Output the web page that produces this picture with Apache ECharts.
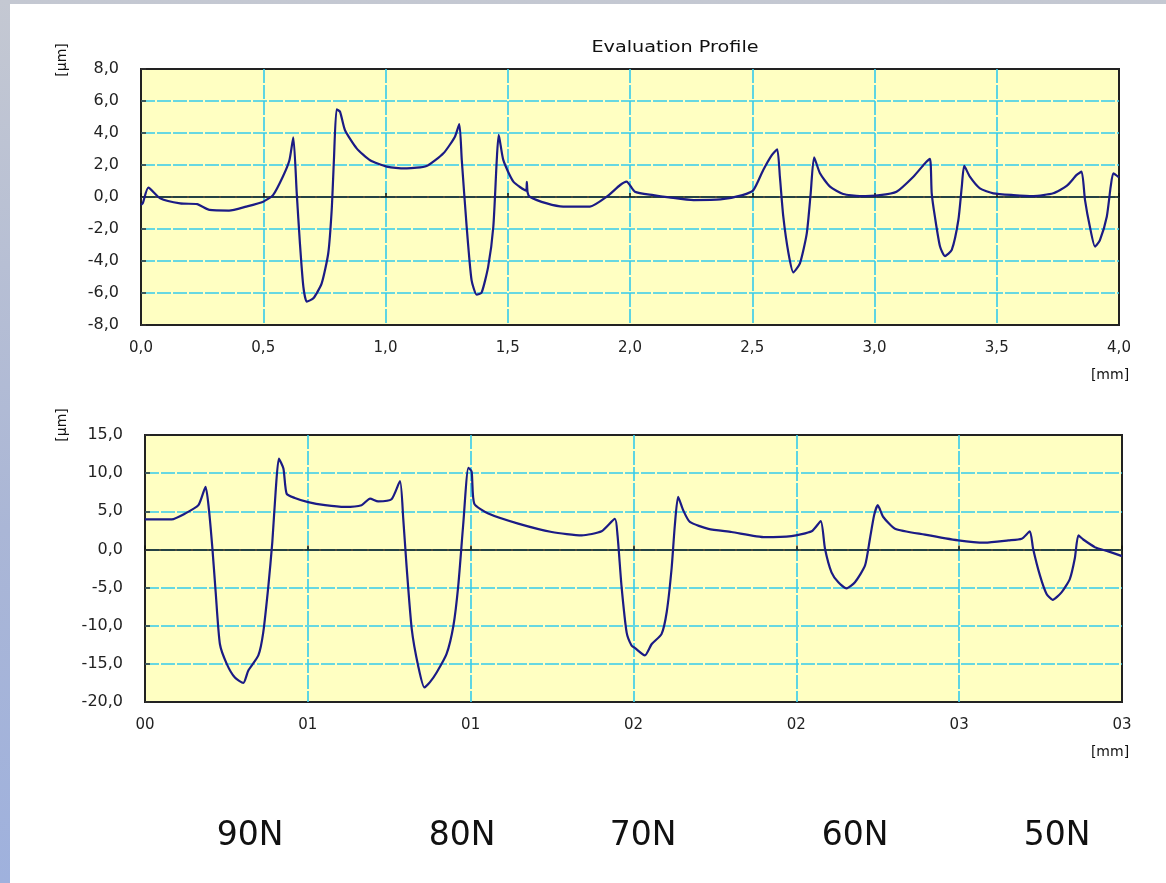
<!DOCTYPE html>
<html>
<head>
<meta charset="utf-8">
<title>Evaluation Profile</title>
<script src="https://cdn.jsdelivr.net/npm/echarts@6/dist/echarts.min.js"></script>
<style>
  html, body { margin: 0; padding: 0; }
  body {
    width: 1166px; height: 883px; overflow: hidden; position: relative;
    background: linear-gradient(to bottom, #c4c8d2 0%, #aab6d6 60%, #9fb1dd 100%);
  }
  #panel { position: absolute; left: 10px; top: 4px; right: 0; bottom: 0; background: #fff; }
  #main { position: absolute; left: 0; top: 0; width: 1166px; height: 883px; }
</style>
</head>
<body>
<div id="panel"></div>
<div id="main"></div>
<script>
// profil 1 : [mm, µm]
var profile1 = [
  [0,-0.5],[0.007,-0.4],[0.03,0.58],[0.078,-0.08],[0.16,-0.4],[0.23,-0.44],[0.25,-0.6],[0.28,-0.81],
  [0.36,-0.85],[0.43,-0.6],[0.50,-0.29],[0.54,0.12],[0.58,1.27],[0.607,2.3],[0.623,3.73],[0.637,0.23],
  [0.65,-2.9],[0.664,-5.6],[0.678,-6.54],[0.705,-6.33],[0.739,-5.4],[0.766,-3.5],[0.78,-0.8],[0.789,2.3],
  [0.80,5.48],[0.814,5.33],[0.834,4.19],[0.882,3.04],[0.937,2.3],[1.005,1.9],[1.087,1.79],[1.168,1.94],
  [1.237,2.73],[1.284,3.77],[1.302,4.56],[1.312,2.3],[1.332,-1.86],[1.352,-5.2],[1.373,-6.1],[1.393,-5.98],
  [1.42,-4.35],[1.441,-1.86],[1.455,2.3],[1.463,3.88],[1.482,2.3],[1.523,0.96],[1.575,0.4],[1.578,0.95],
  [1.581,0.3],[1.59,0.02],[1.66,-0.4],[1.727,-0.6],[1.836,-0.6],[1.905,0.02],[1.96,0.75],[1.986,0.96],
  [2.02,0.33],[2.095,0.12],[2.16,-0.02],[2.26,-0.19],[2.37,-0.15],[2.46,0.12],[2.505,0.44],[2.545,1.69],
  [2.58,2.62],[2.602,2.98],[2.613,1.27],[2.627,-1.23],[2.648,-3.5],[2.668,-4.71],[2.695,-4.15],[2.723,-2.27],
  [2.739,0.23],[2.753,2.48],[2.777,1.48],[2.818,0.65],[2.872,0.19],[2.94,0.06],[3.022,0.12],[3.09,0.33],
  [3.159,1.27],[3.206,2.1],[3.227,2.38],[3.234,0.23],[3.247,-1.23],[3.268,-3.1],[3.288,-3.69],[3.316,-3.31],
  [3.343,-1.44],[3.357,0.65],[3.367,1.94],[3.39,1.27],[3.431,0.54],[3.486,0.23],[3.568,0.12],[3.65,0.06],
  [3.731,0.23],[3.786,0.69],[3.827,1.38],[3.847,1.58],[3.861,-0.19],[3.881,-1.86],[3.902,-3.1],[3.922,-2.69],
  [3.95,-1.23],[3.966,0.65],[3.977,1.48],[4.0,1.23]
];

// profil 2 : [mm, µm]
var profile2 = [
  [0,3.95],[0.082,3.95],[0.123,4.7],[0.164,5.8],[0.186,8.2],[0.196,5.35],[0.207,0.1],[0.217,-5.6],
  [0.23,-12.4],[0.251,-15.0],[0.276,-16.8],[0.302,-17.5],[0.317,-15.9],[0.348,-13.9],[0.363,-10.9],[0.379,-4.7],
  [0.391,1.0],[0.401,7.5],[0.411,11.9],[0.425,10.6],[0.435,7.3],[0.46,6.75],[0.501,6.2],[0.553,5.8],
  [0.614,5.57],[0.665,5.8],[0.691,6.67],[0.716,6.3],[0.757,6.57],[0.783,8.95],[0.793,4.0],[0.803,-2.1],
  [0.819,-10.4],[0.839,-15.3],[0.858,-18.1],[0.875,-17.4],[0.896,-16.1],[0.926,-13.7],[0.947,-10.0],[0.962,-4.7],
  [0.977,3.2],[0.993,10.7],[1.003,10.2],[1.011,6.0],[1.054,4.7],[1.146,3.38],[1.249,2.28],[1.341,1.84],
  [1.402,2.37],[1.443,4.0],[1.451,1.84],[1.463,-4.7],[1.479,-10.9],[1.494,-12.6],[1.504,-12.9],[1.535,-13.9],
  [1.556,-12.4],[1.586,-11.1],[1.602,-8.2],[1.617,-2.5],[1.627,3.2],[1.637,6.9],[1.653,5.1],[1.673,3.6],
  [1.73,2.7],[1.801,2.28],[1.904,1.6],[1.985,1.75],[2.047,2.37],[2.075,3.7],[2.088,0.1],[2.108,-3.0],
  [2.129,-4.3],[2.154,-5.1],[2.18,-4.3],[2.211,-2.1],[2.226,1.4],[2.239,4.5],[2.25,5.8],[2.267,4.25],
  [2.303,2.72],[2.395,1.93],[2.497,1.18],[2.579,0.88],[2.651,1.18],[2.692,1.4],[2.717,2.37],[2.727,0.1],
  [2.748,-3.4],[2.768,-5.8],[2.787,-6.6],[2.815,-5.6],[2.84,-3.86],[2.855,-1.2],[2.866,1.84],[2.881,1.3],
  [2.917,0.3],[2.958,-0.26],[3.0,-0.88]
];

// etiquettes de l'axe x du 2e graphe (telles qu'affichées)
var xLabels2 = ['00', '01', '01', '02', '02', '03', '03'];
// charges sous les graphes
var loadLabels = ['90N', '80N', '70N', '60N', '50N'];
var loadPosX = [250, 462, 643, 855, 1057];

var chart = echarts.init(document.getElementById('main'));

var axisFont = 'DejaVu Sans';
var gridCol = '#36cbec';
var lineCol = '#1b1b85';

function comma(v) {
  return v.toFixed(1).replace('.', ',');
}

var splitStyle = { color: gridCol, width: 1.6, type: [14, 2] };

function xAxisMain(gi, max, fmt) {
  return {
    type: 'value', gridIndex: gi, min: 0, max: max, interval: 0.5,
    position: 'bottom',
    axisLine: { onZero: false, show: false },
    axisTick: { show: false },
    axisLabel: { color: '#222', fontFamily: axisFont, fontSize: 15, margin: 16, formatter: fmt },
    splitLine: { show: true, showMinLine: false, showMaxLine: false, lineStyle: splitStyle }
  };
}
function xAxisZero(gi, max) {
  return {
    type: 'value', gridIndex: gi, min: 0, max: max, interval: 0.5,
    position: 'top',
    axisLine: { onZero: true, lineStyle: { color: '#111', width: 1.5 } },
    axisTick: { show: true, inside: false, length: 4, lineStyle: { color: '#111', width: 1.5 } },
    axisLabel: { show: false },
    splitLine: { show: false }
  };
}
function yAxisDef(gi, min, max, iv) {
  return {
    type: 'value', gridIndex: gi, min: min, max: max, interval: iv,
    axisLine: { show: false },
    axisTick: { show: true, inside: true, length: 5, lineStyle: { color: '#333', width: 1.5 } },
    axisLabel: { color: '#222', fontFamily: axisFont, fontSize: 16, margin: 22, formatter: comma },
    splitLine: { show: true, showMinLine: false, showMaxLine: false, lineStyle: splitStyle }
  };
}

var graphics = [
  { type: 'text', x: 675, y: 48, scaleX: 1.2,
    style: { text: 'Evaluation Profile', font: '16px "DejaVu Sans"', fill: '#111', align: 'center', verticalAlign: 'middle' } },
  { type: 'text', x: 62, y: 60, rotation: Math.PI / 2,
    style: { text: '[µm]', font: '14px "DejaVu Sans"', fill: '#111', align: 'center', verticalAlign: 'middle' } },
  { type: 'text', x: 62, y: 425, rotation: Math.PI / 2,
    style: { text: '[µm]', font: '14px "DejaVu Sans"', fill: '#111', align: 'center', verticalAlign: 'middle' } },
  { type: 'text', x: 1110, y: 375,
    style: { text: '[mm]', font: '14px "DejaVu Sans"', fill: '#111', align: 'center', verticalAlign: 'middle' } },
  { type: 'text', x: 1110, y: 752,
    style: { text: '[mm]', font: '14px "DejaVu Sans"', fill: '#111', align: 'center', verticalAlign: 'middle' } }
];
loadLabels.forEach(function (t, i) {
  graphics.push({ type: 'text', x: loadPosX[i], y: 836,
    style: { text: t, font: '33px "DejaVu Sans"', fill: '#111', align: 'center', verticalAlign: 'middle' } });
});

chart.setOption({
  animation: false,
  grid: [
    { left: 141, top: 69, width: 978, height: 256, show: true, backgroundColor: '#ffffc2', borderColor: '#222', borderWidth: 2 },
    { left: 145, top: 435, width: 977, height: 267, show: true, backgroundColor: '#ffffc2', borderColor: '#222', borderWidth: 2 }
  ],
  xAxis: [
    xAxisMain(0, 4, comma),
    xAxisZero(0, 4),
    xAxisMain(1, 3, function (v) { return xLabels2[Math.round(v / 0.5)]; }),
    xAxisZero(1, 3)
  ],
  yAxis: [
    yAxisDef(0, -8, 8, 2),
    yAxisDef(1, -20, 15, 5)
  ],
  graphic: graphics,
  series: [
    { type: 'line', xAxisIndex: 0, yAxisIndex: 0, data: profile1, showSymbol: false, smooth: 0.2,
      lineStyle: { color: lineCol, width: 2.2 }, z: 5 },
    { type: 'line', xAxisIndex: 2, yAxisIndex: 1, data: profile2, showSymbol: false, smooth: 0.2,
      lineStyle: { color: lineCol, width: 2.2 }, z: 5 }
  ]
});
</script>
</body>
</html>
